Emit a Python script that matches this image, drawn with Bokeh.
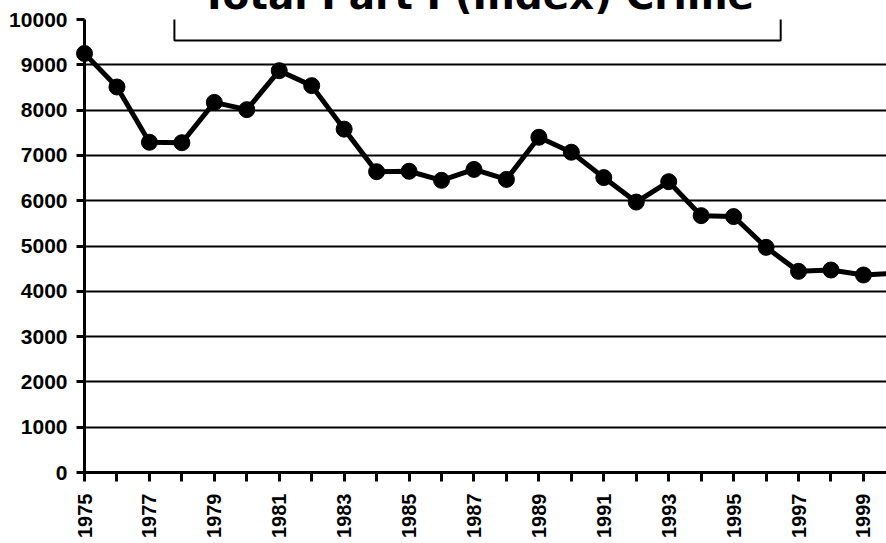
import math
from bokeh.plotting import figure
from bokeh.models import Range1d, FixedTicker, BoxAnnotation
from bokeh.core.properties import value
from bokeh.embed import file_html
from bokeh.resources import INLINE

# ---- data ----
years = list(range(1975, 2001))
crimes = [9250, 8510, 7290, 7280, 8170, 8010, 8870, 8540, 7580, 6640,
          6650, 6450, 6690, 6470, 7400, 7070, 6510, 5970, 6420, 5670,
          5650, 4970, 4440, 4470, 4360, 4400]
y_ticks = list(range(0, 10001, 1000))
x_label_years = list(range(1975, 2000, 2))
x_minor_years = list(range(1976, 2000, 2))
title_text = "Total Part I (Index) Crime"

W, H = 886, 543
FONT = "Liberation Sans"

p = figure(width=W, height=H, output_backend="svg", toolbar_location=None,
           x_range=Range1d(1975, 1999.71), y_range=Range1d(0, 10000),
           min_border_left=84, min_border_right=0, min_border_top=19,
           min_border_bottom=H - 472)
p.outline_line_color = None
p.background_fill_color = "white"
p.border_fill_color = "white"

# x axis
xa = p.xaxis[0]
xa.ticker = FixedTicker(ticks=x_label_years, minor_ticks=x_minor_years)
xa.axis_line_width = 3
xa.axis_line_color = "black"
xa.major_tick_out = 9
xa.major_tick_in = 0
xa.minor_tick_out = 9
xa.minor_tick_in = 0
xa.major_tick_line_width = 3
xa.minor_tick_line_width = 3
xa.major_tick_line_color = "black"
xa.minor_tick_line_color = "black"
xa.major_label_orientation = math.pi / 2
xa.major_label_standoff = 12
xa.major_label_text_font = FONT
xa.major_label_text_font_style = "bold"
xa.major_label_text_font_size = "20px"
xa.major_label_text_color = "black"

# y axis
ya = p.yaxis[0]
ya.ticker = FixedTicker(ticks=y_ticks, minor_ticks=[])
ya.axis_line_width = 3
ya.axis_line_color = "black"
ya.major_tick_out = 8
ya.major_tick_in = 0
ya.major_tick_line_width = 3
ya.major_tick_line_color = "black"
ya.minor_tick_out = 0
ya.minor_tick_in = 0
ya.major_label_standoff = 9
ya.major_label_text_font = FONT
ya.major_label_text_font_style = "bold"
ya.major_label_text_font_size = "21px"
ya.major_label_text_color = "black"

p.xgrid.grid_line_color = None
p.ygrid.ticker = FixedTicker(ticks=y_ticks)
p.ygrid.grid_line_color = "black"
p.ygrid.grid_line_width = 2

# data line and markers
p.line(years, crimes, line_color="black", line_width=5)
p.scatter(years, crimes, size=16, fill_color="black", line_color="black", level="overlay")

# title box (partly above the top edge, as in the original)
box_left, box_right = 1977.77, 1996.45
box = BoxAnnotation(left=box_left, right=box_right, bottom=9536, top=11500,
                    fill_color="white", fill_alpha=1.0,
                    line_color="black", line_width=2, line_alpha=1.0)
p.add_layout(box)
p.text(x=[(box_left + box_right) / 2], y=[10155], text=[title_text],
       text_align="center", text_baseline="alphabetic", y_offset=-17,
       text_font=value("DejaVu Sans"), text_font_style="bold",
       text_font_size="39px", text_color="black", level="overlay")

open("out.html", "w").write(file_html(p, INLINE))
